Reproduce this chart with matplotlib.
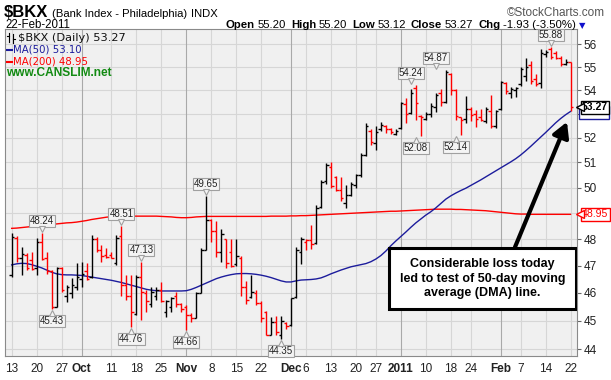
import numpy as np
import pandas as pd
import matplotlib
matplotlib.use('Agg')
import matplotlib.pyplot as plt
from matplotlib.collections import LineCollection
from matplotlib.patches import Rectangle
from matplotlib.lines import Line2D
from matplotlib import transforms
from matplotlib.ticker import NullLocator

plt.rcParams['font.family'] = ['Liberation Sans', 'DejaVu Sans']

# --- data ---
holidays = ['2010-11-25', '2010-12-24', '2011-01-17', '2011-02-21']
dates = pd.bdate_range('2010-09-13', '2011-02-22', freq='C', holidays=holidays)
prev_close = 46.58

opens = [46.65, 48.05, 47.30, 47.40, 47.20, 46.90, 47.90, 47.30, 46.80, 45.50,
         46.90, 45.90, 46.00, 46.20, 46.50, 46.80, 46.60, 48.00, 47.60, 47.40,
         47.40, 47.10, 48.10, 46.30, 45.90, 45.25, 46.60, 46.00, 45.60, 45.90,
         46.10, 45.30, 45.50, 45.90, 45.60, 45.50, 45.20, 45.10, 46.00, 47.60,
         48.75, 48.30, 47.50, 48.00, 47.50, 47.05, 47.30, 46.20, 45.85, 46.00,
         45.65, 45.30, 44.50, 44.95, 44.50, 44.90, 44.85, 45.85, 47.50, 47.90,
         47.95, 47.85, 49.25, 50.25, 50.80, 50.40, 49.90, 49.40, 49.70, 50.10,
         50.50, 51.30, 52.30, 51.80, 52.35, 52.50, 52.35, 52.15, 52.40, 53.40,
         53.05, 54.10, 52.90, 52.80, 53.00, 53.30, 53.90, 53.50, 54.70, 54.00,
         52.85, 52.80, 53.20, 53.00, 52.85, 52.70, 53.10, 52.50, 53.20, 54.30,
         53.90, 54.00, 54.25, 54.60, 55.10, 54.50, 54.30, 55.55, 55.80, 55.60,
         55.40, 55.15, 55.20]
highs = [48.22, 48.10, 47.71, 47.46, 47.50, 48.03, 48.24, 47.50, 46.84, 46.96,
         46.96, 46.28, 46.53, 47.09, 47.15, 47.09, 48.15, 48.09, 47.77, 47.65,
         47.52, 48.15, 48.51, 46.65, 46.65, 46.65, 47.13, 46.10, 46.22, 46.22,
         46.40, 45.74, 45.86, 46.04, 45.62, 45.56, 45.26, 46.04, 47.65, 49.65,
         48.78, 48.70, 48.40, 48.02, 48.00, 48.02, 47.35, 46.45, 46.64, 46.10,
         45.70, 45.33, 45.14, 45.15, 45.17, 44.96, 45.83, 47.70, 48.08, 48.02,
         48.55, 49.30, 50.30, 50.97, 51.00, 50.45, 50.42, 50.10, 50.23, 50.55,
         51.38, 52.60, 52.35, 52.50, 52.65, 52.55, 52.42, 52.35, 53.50, 53.65,
         54.05, 54.24, 52.95, 53.08, 53.45, 53.87, 54.05, 54.87, 54.73, 54.05,
         52.88, 53.75, 53.30, 53.17, 53.20, 53.30, 53.80, 53.17, 54.40, 54.35,
         54.15, 54.15, 55.00, 55.40, 55.25, 54.70, 55.80, 55.75, 55.88, 55.70,
         55.50, 55.35, 55.20]
lows = [46.59, 47.15, 46.65, 46.84, 46.85, 46.65, 47.21, 46.70, 45.43, 45.50,
        46.04, 45.68, 45.80, 46.10, 46.22, 46.47, 46.53, 47.52, 47.15, 47.28,
        47.28, 47.02, 45.90, 45.75, 44.76, 45.20, 45.02, 45.32, 45.50, 45.74,
        45.68, 45.14, 45.32, 45.50, 45.32, 44.66, 44.96, 45.08, 45.98, 47.60,
        47.90, 47.33, 47.15, 46.90, 46.95, 47.00, 45.90, 45.60, 45.80, 45.55,
        44.96, 44.48, 44.48, 44.50, 44.35, 44.72, 44.80, 45.80, 47.05, 47.60,
        47.63, 47.80, 49.20, 50.15, 49.98, 49.85, 49.45, 49.18, 49.65, 50.00,
        50.42, 51.25, 51.70, 51.50, 52.30, 52.20, 52.15, 52.12, 52.35, 52.60,
        53.00, 52.75, 52.08, 52.75, 52.88, 53.08, 53.35, 53.45, 53.80, 52.75,
        52.14, 52.60, 52.70, 52.45, 52.70, 52.60, 52.40, 52.40, 53.17, 53.85,
        53.65, 53.70, 54.20, 54.40, 54.25, 54.20, 54.10, 55.45, 55.35, 55.35,
        55.05, 55.10, 53.12]
closes = [48.09, 47.30, 47.45, 46.90, 46.87, 47.90, 47.25, 46.80, 45.50, 46.90,
          46.10, 46.20, 46.30, 46.60, 46.70, 46.50, 48.00, 47.60, 47.35, 47.33,
          47.30, 48.05, 46.30, 45.90, 45.30, 46.60, 46.05, 45.70, 46.05, 46.10,
          45.70, 45.72, 45.80, 45.60, 45.40, 45.20, 45.10, 46.00, 47.60, 48.75,
          48.30, 47.50, 48.20, 47.10, 47.00, 47.35, 46.20, 45.75, 46.05, 45.65,
          45.10, 44.50, 44.95, 44.60, 45.00, 44.80, 45.80, 47.60, 48.00, 47.95,
          47.80, 49.20, 50.20, 50.90, 50.05, 49.90, 49.60, 49.70, 50.15, 50.50,
          51.30, 52.50, 51.85, 52.25, 52.55, 52.35, 52.25, 52.30, 53.45, 53.00,
          53.90, 53.45, 52.85, 53.00, 53.35, 53.80, 53.50, 54.80, 54.00, 52.90,
          52.75, 53.20, 52.95, 52.80, 52.75, 53.20, 52.50, 53.10, 54.35, 53.95,
          54.05, 54.10, 54.90, 55.00, 54.40, 54.25, 55.60, 55.65, 55.45, 55.40,
          55.12, 55.20, 53.27]

ma50 = [47.03, 47.07, 47.09, 47.08, 47.04, 46.98, 46.92, 46.84, 46.76, 46.70,
        46.67, 46.66, 46.66, 46.65, 46.64, 46.61, 46.58, 46.55, 46.52, 46.49,
        46.46, 46.42, 46.38, 46.33, 46.28, 46.23, 46.18, 46.13, 46.10, 46.08,
        46.07, 46.07, 46.07, 46.07, 46.07, 46.08, 46.13, 46.20, 46.28, 46.36,
        46.44, 46.52, 46.58, 46.63, 46.67, 46.70, 46.71, 46.71, 46.70, 46.68,
        46.65, 46.61, 46.56, 46.50, 46.44, 46.40, 46.40, 46.44, 46.47, 46.48,
        46.49, 46.51, 46.55, 46.62, 46.70, 46.77, 46.84, 46.90, 46.96, 47.00,
        47.04, 47.08, 47.15, 47.25, 47.38, 47.55, 47.75, 47.93, 48.10, 48.27,
        48.45, 48.62, 48.77, 48.92, 49.05, 49.20, 49.37, 49.54, 49.67, 49.78,
        49.88, 49.97, 50.08, 50.19, 50.30, 50.42, 50.54, 50.66, 50.78, 50.90,
        51.02, 51.15, 51.30, 51.47, 51.65, 51.84, 52.03, 52.22, 52.42, 52.62,
        52.80, 52.96, 53.10]
ma200 = [48.41, 48.42, 48.44, 48.46, 48.48, 48.50, 48.52, 48.54, 48.56, 48.58,
         48.60, 48.62, 48.63, 48.65, 48.68, 48.71, 48.75, 48.78, 48.81, 48.84,
         48.86, 48.87, 48.88, 48.88, 48.88, 48.88, 48.88, 48.88, 48.88, 48.88,
         48.87, 48.86, 48.85, 48.83, 48.82, 48.82, 48.83, 48.85, 48.86, 48.87,
         48.87, 48.87, 48.87, 48.87, 48.87, 48.87, 48.87, 48.87, 48.87, 48.87,
         48.87, 48.87, 48.88, 48.88, 48.88, 48.88, 48.89, 48.89, 48.90, 48.90,
         48.91, 48.92, 48.93, 48.94, 48.95, 48.96, 48.97, 48.98, 48.99, 49.00,
         49.01, 49.02, 49.03, 49.04, 49.05, 49.06, 49.07, 49.07, 49.08, 49.09,
         49.10, 49.11, 49.12, 49.13, 49.14, 49.15, 49.15, 49.15, 49.15, 49.14,
         49.14, 49.13, 49.12, 49.11, 49.10, 49.09, 49.07, 49.05, 49.03, 49.01,
         48.99, 48.97, 48.96, 48.96, 48.95, 48.95, 48.95, 48.95, 48.95, 48.95,
         48.95, 48.95, 48.95]

# labelled highs / lows: (date, value, kind)
price_tags = [('2010-09-21', 48.24, 'hi'), ('2010-09-23', 45.43, 'lo'),
              ('2010-10-13', 48.51, 'hi'), ('2010-10-15', 44.76, 'lo'),
              ('2010-10-19', 47.13, 'hi'), ('2010-11-01', 44.66, 'lo'),
              ('2010-11-05', 49.65, 'hi'), ('2010-11-29', 44.35, 'lo'),
              ('2011-01-05', 54.24, 'hi'), ('2011-01-06', 52.08, 'lo'),
              ('2011-01-12', 54.87, 'hi'), ('2011-01-19', 52.14, 'lo'),
              ('2011-02-15', 55.88, 'hi')]

tick_dates = ['2010-09-13', '2010-09-20', '2010-09-27', '2010-10-01', '2010-10-11',
              '2010-10-18', '2010-10-25', '2010-11-01', '2010-11-08', '2010-11-15',
              '2010-11-22', '2010-12-01', '2010-12-06', '2010-12-13', '2010-12-20',
              '2010-12-27', '2011-01-03', '2011-01-10', '2011-01-18', '2011-01-24',
              '2011-02-01', '2011-02-07', '2011-02-14', '2011-02-22']
tick_texts = ['13', '20', '27', 'Oct', '11', '18', '25', 'Nov', '8', '15', '22',
              'Dec', '6', '13', '20', '27', '2011', '10', '18', '24', 'Feb', '7',
              '14', '22']
month_ticks = ['Oct', 'Nov', 'Dec', '2011', 'Feb']
y_ticks = [44, 45, 46, 47, 48, 49, 50, 51, 52, 53, 54, 55, 56]

# --- figure ---
W, H = 611, 380
fig = plt.figure(figsize=(W / 100, H / 100), dpi=100)
ax = fig.add_axes([5 / W, 1 - 356 / H, 572 / W, 327 / H])
ax.set_facecolor('#f0f0f0')
ax.set_yscale('log')
ax.set_ylim(43.76, 56.68)
ax.set_xlim(-1.34, 113.3)

idx = np.arange(len(dates))
tick_idx = [dates.get_loc(pd.Timestamp(d)) for d in tick_dates]

# grid
for p in y_ticks:
    ax.axhline(p, color='#d6d6d6', lw=0.8, zorder=0)
for ti, tt in zip(tick_idx, tick_texts):
    ax.axvline(ti, color='#a9a9a9' if tt in month_ticks else '#d6d6d6', lw=0.8, zorder=0)

# OHLC bars
segs, cols = [], []
last = prev_close
for i in idx:
    c = '#000000' if closes[i] >= last else '#ff0000'
    last = closes[i]
    segs += [[(i, lows[i]), (i, highs[i])],
             [(i - 0.5, opens[i]), (i, opens[i])],
             [(i, closes[i]), (i + 0.5, closes[i])]]
    cols += [c, c, c]
ax.add_collection(LineCollection(segs, colors=cols, linewidths=1.0, zorder=3))

# moving averages
ax.plot(idx, ma200, color='#ff0000', lw=1.0, zorder=2)
ax.plot(idx, ma50, color='#1c1c9c', lw=1.0, zorder=2)

# high / low tags
for d, v, kind in price_tags:
    i = dates.get_loc(pd.Timestamp(d))
    sgn = 1 if kind == 'hi' else -1
    ax.annotate(f'{v:.2f}', xy=(i, v), xytext=(0, sgn * 7), textcoords='offset pixels',
                ha='center', va='bottom' if kind == 'hi' else 'top', fontsize=7,
                color='#222222', zorder=6,
                bbox=dict(boxstyle='square,pad=0.1', fc='#f4f4f4', ec='#a0a0a0', lw=0.8))
    tr = transforms.offset_copy(ax.transData, fig=fig, x=0, y=sgn * 4, units='dots')
    ax.plot([i], [v], marker='v' if kind == 'hi' else '^', ms=4.5, mfc='#f4f4f4',
            mec='#a0a0a0', mew=0.8, transform=tr, zorder=7, clip_on=False)

# axes styling
for s in ax.spines.values():
    s.set_color('#8a8a8a')
    s.set_linewidth(0.8)
ax.yaxis.tick_right()
ax.yaxis.set_minor_locator(NullLocator())
ax.set_yticks(y_ticks, ['' if p in (49, 53) else str(p) for p in y_ticks])
ax.tick_params(axis='y', which='major', length=3, width=0.8, color='#666666',
               labelsize=8.5, labelcolor='#222222', pad=2)
ax.set_xticks(tick_idx, tick_texts)
ax.tick_params(axis='x', length=0, labelsize=8.5, labelcolor='#222222', pad=5)
for lab in ax.get_xticklabels():
    if lab.get_text() in month_ticks:
        lab.set_fontweight('bold')

# right-hand value boxes
blend = transforms.blended_transform_factory(ax.transAxes, ax.transData)
# MA(50) box sits almost fully hidden behind the close box: draw only its frame
ma50_box = transforms.offset_copy(blend, fig=fig, x=2, y=-1, units='dots')
ax.add_patch(Rectangle((1.0, ma50[-1] / 1.0052), 0.053, ma50[-1] * 0.0104,
                       transform=ma50_box, fc='white', ec='#1c1c9c', lw=1.0,
                       zorder=19, clip_on=False))
right_tags = [(closes[-1], '#000000', True, 22), (ma200[-1], '#ff0000', False, 20)]
for v, col, bold, z in right_tags:
    ax.annotate(f'{v:.2f}', xy=(1.0, v), xycoords=blend, xytext=(5, 0),
                textcoords='offset pixels', ha='left', va='center', fontsize=7.6,
                fontweight='bold' if bold else 'normal', color=col, zorder=z,
                annotation_clip=False,
                bbox=dict(boxstyle='square,pad=0.12', fc='white', ec=col, lw=1.0))
    tr = transforms.offset_copy(blend, fig=fig, x=3, y=0, units='dots')
    ax.plot([1.0], [v], marker='<', ms=6, mfc='white', mec=col, mew=1.0,
            transform=tr, zorder=z + 1, clip_on=False)

# callout
ax.annotate('', xy=(0.9825, 0.716), xytext=(0.8916, 0.333), xycoords='axes fraction',
            arrowprops=dict(arrowstyle='-|>,head_length=0.9,head_width=0.5', lw=3,
                            color='black', shrinkA=0, shrinkB=0), zorder=9)
ax.add_patch(Rectangle((0.6713, 0.1437), 0.3267, 0.1866, transform=ax.transAxes,
                       fc='white', ec='black', lw=2.2, zorder=10))
ax.text(0.8348, 0.237, 'Considerable loss today\nled to test of 50-day moving\naverage (DMA) line.',
        transform=ax.transAxes, ha='center', va='center', fontsize=9, fontweight='bold',
        linespacing=1.3, zorder=11)

# header
def fx(x):
    return x / W

def fy(y):
    return 1 - y / H

renderer = fig.canvas.get_renderer()

def chain(x, y, pieces, size):
    for txt, bold, gap in pieces:
        t = fig.text(fx(x), fy(y), txt, fontsize=size,
                     fontweight='bold' if bold else 'normal', va='baseline')
        x += t.get_window_extent(renderer).width + gap
    return x

chain(4, 17, [('$BKX', True, 4)], 12)
chain(52, 17, [('(Bank Index - Philadelphia)', False, 4), ('INDX', False, 0)], 8.1)
fig.text(fx(5), fy(28), '22-Feb-2011', fontsize=8.3, va='baseline')
fig.text(fx(605), fy(16), '\u00a9StockCharts.com', fontsize=8.5, color='#555555',
         ha='right', va='baseline')

x_end = chain(226, 28, [('Open', True, 2.5), ('55.20', False, 5), ('High', True, 2.5),
                        ('55.20', False, 5), ('Low', True, 2.5), ('53.12', False, 5),
                        ('Close', True, 2.5), ('53.27', False, 5), ('Chg', True, 2.5),
                        ('-1.93 (-3.50%)', False, 3)], 8.2)
fig.text(fx(x_end), fy(28), '\u25bc', fontsize=6, color='#1010cc', va='baseline',
         family='DejaVu Sans')

# in-chart legend
fig.add_artist(Line2D([fx(9), fx(9)], [fy(33), fy(42)], color='black', lw=0.8))
fig.add_artist(Line2D([fx(7), fx(9)], [fy(36), fy(36)], color='black', lw=0.8))
fig.add_artist(Line2D([fx(13), fx(13)], [fy(34), fy(43)], color='black', lw=0.8))
fig.add_artist(Line2D([fx(13), fx(15)], [fy(39), fy(39)], color='black', lw=0.8))
fig.text(fx(18), fy(38), '$BKX (Daily) 53.27', fontsize=8.2, va='center',
         family='DejaVu Sans', color='#111111')
fig.add_artist(Line2D([fx(7), fx(12)], [fy(50), fy(50)], color='#1c1c9c', lw=1.5))
fig.text(fx(13), fy(50), 'MA(50) 53.10', fontsize=7.3, va='center',
         family='DejaVu Sans', color='#1c1c9c')
fig.add_artist(Line2D([fx(7), fx(12)], [fy(62), fy(62)], color='#ff0000', lw=1.5))
fig.text(fx(13), fy(62), 'MA(200) 48.95', fontsize=7.3, va='center',
         family='DejaVu Sans', color='#ff0000')
fig.text(fx(6), fy(73), 'www.CANSLIM.net', fontsize=8.6, fontweight='bold',
         va='center', color='#128a12')

fig.savefig('out.png', dpi=100, facecolor='white')
